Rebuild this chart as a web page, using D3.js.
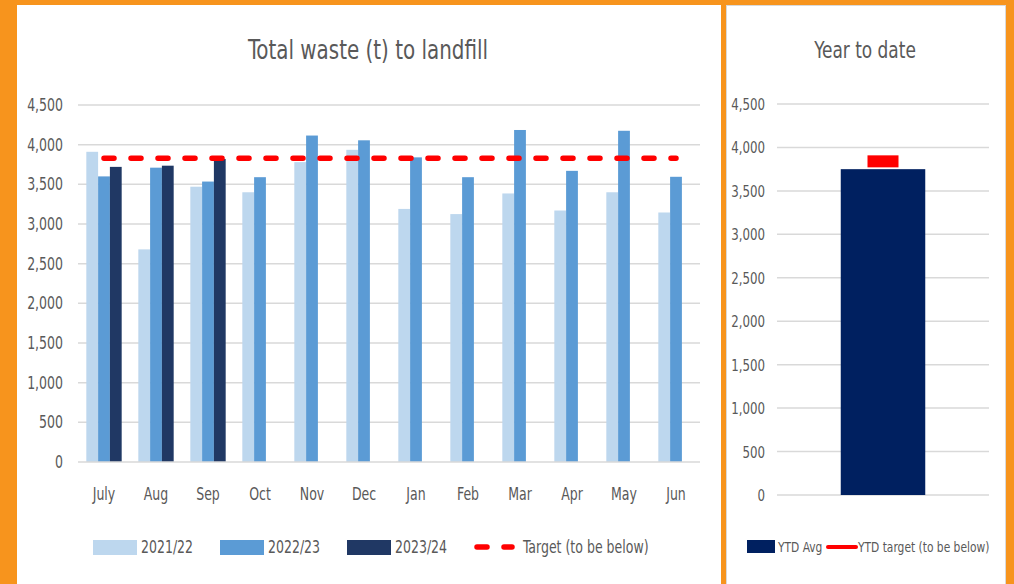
<!DOCTYPE html>
<html>
<head>
<meta charset="utf-8">
<script src="https://cdn.jsdelivr.net/npm/d3@7"></script>
<style>
  body { margin:0; background:#F7941D; }
  svg text { font-family:"Liberation Sans Narrow","DejaVu Sans Condensed",sans-serif; fill:#595959; }
  .grid line { stroke:#d9d9d9; stroke-width:1.5; }
</style>
</head>
<body>
<svg width="1014" height="584"></svg>
<script>
// data
var months = ["July","Aug","Sep","Oct","Nov","Dec","Jan","Feb","Mar","Apr","May","Jun"]
var seriesNames = ["2021/22","2022/23","2023/24"]
var fy2122 = [3910,2680,3470,3400,3780,3935,3190,3125,3385,3170,3400,3145]
var fy2223 = [3600,3710,3535,3590,4115,4055,3840,3590,4185,3670,4175,3595]
var fy2324 = [3720,3735,3820]
var target = [3830,3830,3830,3830,3830,3830,3830,3830,3830,3830,3830,3830]
var yTicks = [0,500,1000,1500,2000,2500,3000,3500,4000,4500]
var ytdNames = ["YTD Avg","YTD target (to be below)"]
var ytdAvg = [3750]
var ytdTarget = [3840]

var colors = ["#BDD7EE","#5B9BD5","#203864"]

// condensed look: squeeze text sideways around its anchor point
var squeeze = 0.82
var place = function(x,y)
{
    return "translate("+x+","+y+") scale("+squeeze+",1)"
}

var svg = d3.select("svg")

svg.append("rect").attr("width",1014).attr("height",584).attr("fill","#F7941D")
// panels
svg.append("rect").attr("x",17).attr("y",5).attr("width",704).attr("height",590).attr("fill","#fff")
svg.append("rect").attr("x",726.5).attr("y",5.5).attr("width",279).attr("height",590)
    .attr("fill","#fff").attr("stroke","#d9d9d9")

//---------- main chart
var x0 = d3.scaleBand().domain(months).range([78,702]).paddingInner(0.32).paddingOuter(0.16)
var x1 = d3.scaleBand().domain(seriesNames).range([0,x0.bandwidth()])
var y = d3.scaleLinear().domain([0,4500]).range([462,105])

svg.append("text")
    .text("Total waste (t) to landfill")
    .attr("text-anchor","middle")
    .attr("transform",place(368,59))
    .style("font-size","27px")

var grid = svg.append("g").classed("grid",true)
grid.selectAll("line").data(yTicks.slice(1)).enter().append("line")
    .attr("x1",78).attr("x2",700)
    .attr("y1",function(d){return y(d)}).attr("y2",function(d){return y(d)})

grid.selectAll("text").data(yTicks).enter().append("text")
    .text(function(d){return d3.format(",")(d)})
    .attr("text-anchor","end")
    .attr("transform",function(d){return place(63,y(d)+6)})
    .style("font-size","17px")

var rows = months.map(function(m,i){
    return {month:m, vals:[fy2122[i],fy2223[i],fy2324[i]]}
})

var groups = svg.append("g").selectAll("g").data(rows).enter().append("g")
    .attr("transform",function(d){return "translate("+x0(d.month)+",0)"})

groups.selectAll("rect")
    .data(function(d){
        return d.vals.map(function(v,j){return {name:seriesNames[j],value:v,c:colors[j]}})
            .filter(function(e){return e.value!=null})
    })
    .enter().append("rect")
    .attr("x",function(d){return x1(d.name)})
    .attr("width",x1.bandwidth())
    .attr("y",function(d){return y(d.value)})
    .attr("height",function(d){return y(0)-y(d.value)})
    .attr("fill",function(d){return d.c})

// baseline
svg.append("line").attr("x1",78).attr("x2",700).attr("y1",y(0)).attr("y2",y(0))
    .attr("stroke","#d9d9d9").attr("stroke-width",1.5)

// month labels
svg.append("g").selectAll("text").data(months).enter().append("text")
    .text(function(d){return d})
    .attr("text-anchor","middle")
    .attr("transform",function(d){return place(x0(d)+x0.bandwidth()/2,500)})
    .style("font-size","17px")

var lineGenerator = d3.line()
    .x(function(d,i){return x0(months[i])+x0.bandwidth()/2})
    .y(function(d){return y(d)})

svg.append("path").datum(target)
    .attr("d",lineGenerator)
    .attr("fill","none").attr("stroke","#FF0000")
    .attr("stroke-width",5.5).attr("stroke-linecap","round")
    .attr("stroke-dasharray","10,17")

// legend
var legend = svg.append("g")
var legX = [93,220,347]
legend.selectAll("rect").data(seriesNames).enter().append("rect")
    .attr("x",function(d,i){return legX[i]}).attr("y",540)
    .attr("width",44).attr("height",15)
    .attr("fill",function(d,i){return colors[i]})
legend.selectAll("text.s").data(seriesNames).enter().append("text")
    .text(function(d){return d})
    .attr("transform",function(d,i){return place(legX[i]+48,553)})
    .style("font-size","17px")
legend.append("line").attr("x1",477).attr("x2",512).attr("y1",547).attr("y2",547)
    .attr("stroke","#FF0000").attr("stroke-width",5.5).attr("stroke-linecap","round")
    .attr("stroke-dasharray","10,17")
legend.append("text").text("Target (to be below)")
    .attr("transform",place(523,553))
    .style("font-size","17px")

//---------- year to date chart
var x2 = d3.scaleBand().domain(["YTD"]).range([777,989]).padding(0.43)
var y2 = d3.scaleLinear().domain([0,4500]).range([495,104])

svg.append("text")
    .text("Year to date")
    .attr("text-anchor","middle")
    .attr("transform",place(865,58))
    .style("font-size","23px")

var grid2 = svg.append("g").classed("grid",true)
grid2.selectAll("line").data(yTicks).enter().append("line")
    .attr("x1",777).attr("x2",989)
    .attr("y1",function(d){return y2(d)}).attr("y2",function(d){return y2(d)})
grid2.selectAll("text").data(yTicks).enter().append("text")
    .text(function(d){return d3.format(",")(d)})
    .attr("text-anchor","end")
    .attr("transform",function(d){return place(765,y2(d)+6)})
    .style("font-size","16px")

svg.append("g").selectAll("rect").data(ytdAvg).enter().append("rect")
    .attr("x",x2("YTD")).attr("width",x2.bandwidth())
    .attr("y",function(d){return y2(d)})
    .attr("height",function(d){return y2(0)-y2(d)})
    .attr("fill","#002060")

svg.append("g").selectAll("rect").data(ytdTarget).enter().append("rect")
    .attr("x",x2("YTD")+x2.bandwidth()/2-15.5).attr("width",31)
    .attr("y",function(d){return y2(d)-6}).attr("height",12)
    .attr("fill","#FF0000")

var legend2 = svg.append("g")
legend2.append("rect").attr("x",747).attr("y",540).attr("width",28).attr("height",13).attr("fill","#002060")
legend2.append("text").text(ytdNames[0]).attr("transform",place(778,552)).style("font-size","14.5px")
legend2.append("line").attr("x1",828).attr("x2",856).attr("y1",547).attr("y2",547)
    .attr("stroke","#FF0000").attr("stroke-width",4).attr("stroke-linecap","round")
legend2.append("text").text(ytdNames[1]).attr("transform",place(858,552)).style("font-size","14.5px")
</script>
</body>
</html>
